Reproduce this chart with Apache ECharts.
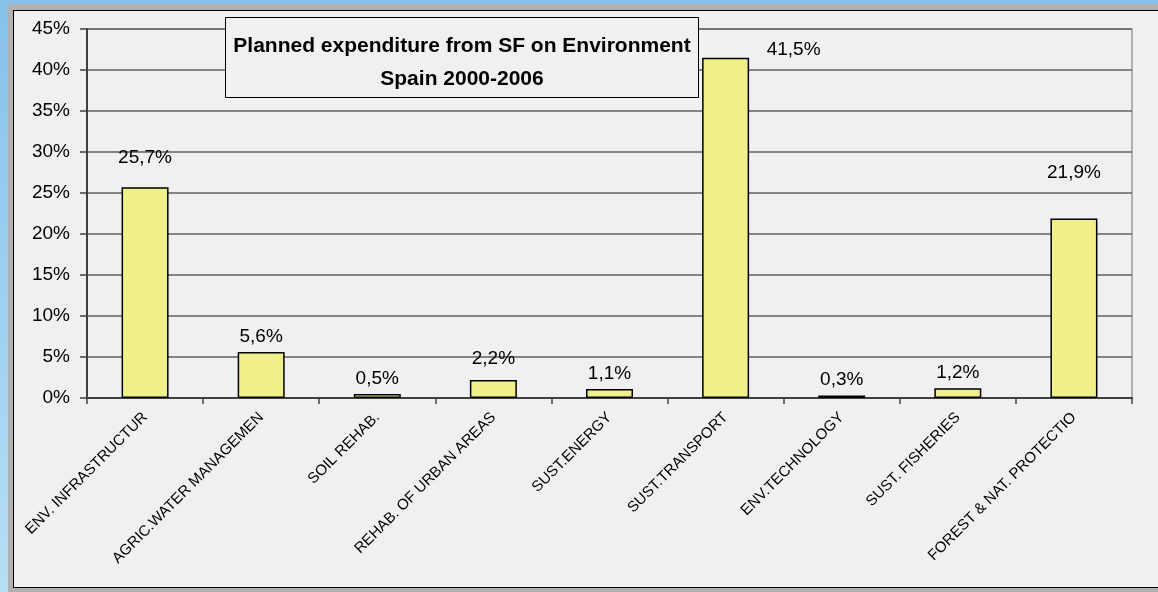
<!DOCTYPE html>
<html>
<head>
<meta charset="utf-8">
<script src="https://cdn.jsdelivr.net/npm/echarts@6/dist/echarts.min.js"></script>
<style>
  html, body { margin: 0; padding: 0; width: 1158px; height: 592px; overflow: hidden; }
  body { background: linear-gradient(to bottom, #86c2ea 0%, #9fd0f0 50%, #b6def5 100%); position: relative; }
  #shadow { position: absolute; left: 8px; top: 4px; width: 1150px; height: 588px; background: #b0b0b0; }
  #panel { position: absolute; left: 13px; top: 10px; width: 1145px; height: 578px; background: #f0f0f0;
           border-left: 1.5px solid #000; border-top: 1.5px solid #000; border-bottom: 1.5px solid #000; box-sizing: border-box; }
  #chart { position: absolute; left: 0; top: 0; width: 1158px; height: 592px; }
</style>
</head>
<body>
<div id="shadow"></div>
<div id="panel"></div>
<div id="chart"></div>
<script>
// ---- data ----
const categories = [
  'ENV. INFRASTRUCTUR',
  'AGRIC.WATER MANAGEMEN',
  'SOIL REHAB.',
  'REHAB. OF URBAN AREAS',
  'SUST.ENERGY',
  'SUST.TRANSPORT',
  'ENV.TECHNOLOGY',
  'SUST. FISHERIES',
  'FOREST & NAT. PROTECTIO'
];
const values = [25.7, 5.6, 0.5, 2.2, 1.1, 41.5, 0.3, 1.2, 21.9];
const yTicks = [0, 5, 10, 15, 20, 25, 30, 35, 40, 45];
const titleLines = ['Planned expenditure from SF on Environment', 'Spain 2000-2006'];

const FONT = '"Liberation Sans", Arial, sans-serif';
const fmt = v => v.toFixed(1).replace('.', ',') + '%';

// label offsets (style only)
const labelOffsets = { 0: [0, -14], 3: [0, -6], 5: [68, 8], 8: [0, -30] };

const chart = echarts.init(document.getElementById('chart'), null, { renderer: 'canvas' });
chart.setOption({
  backgroundColor: 'transparent',
  animation: false,
  grid: { left: 87, right: 26, top: 29, bottom: 194, show: true, borderColor: '#707070', borderWidth: 1, backgroundColor: 'transparent' },
  xAxis: {
    type: 'category',
    data: categories,
    axisLine: { lineStyle: { color: '#404040', width: 2 } },
    axisTick: { show: true, alignWithLabel: false, length: 6, lineStyle: { color: '#404040', width: 1.5 } },
    axisLabel: { rotate: 45, interval: 0, margin: 17, color: '#000', fontFamily: FONT, fontSize: 15 }
  },
  yAxis: {
    type: 'value',
    min: yTicks[0], max: yTicks[yTicks.length - 1], interval: yTicks[1] - yTicks[0],
    axisLine: { show: true, lineStyle: { color: '#404040', width: 2 } },
    axisTick: { show: true, length: 7, lineStyle: { color: '#404040', width: 1.5 } },
    splitLine: { show: true, lineStyle: { color: '#606060', width: 1.5 } },
    axisLabel: { color: '#000', fontFamily: FONT, fontSize: 19, margin: 17, formatter: v => v + '%' }
  },
  series: [{
    type: 'bar',
    barWidth: 47,
    data: values.map((v, i) => ({
      value: v,
      label: labelOffsets[i] ? { offset: labelOffsets[i] } : undefined
    })),
    itemStyle: { color: '#f0f08a', borderColor: '#000', borderWidth: 1.5 },
    label: {
      show: true, position: 'top', distance: 6, color: '#000',
      fontFamily: FONT, fontSize: 19,
      formatter: p => fmt(p.value)
    }
  }],
  graphic: [{
    type: 'group', left: 225, top: 17, z: 100,
    children: [
      { type: 'rect', shape: { x: 0, y: 0, width: 473, height: 80 },
        style: { fill: '#f0f0f0', stroke: '#000', lineWidth: 1 }, z: 100 },
      { type: 'text', x: 236.5, y: 29, z: 101,
        style: { text: titleLines[0], fill: '#000', font: 'bold 21px ' + FONT, textAlign: 'center', textVerticalAlign: 'middle' } },
      { type: 'text', x: 236.5, y: 62, z: 101,
        style: { text: titleLines[1], fill: '#000', font: 'bold 21px ' + FONT, textAlign: 'center', textVerticalAlign: 'middle' } }
    ]
  }]
});
</script>
</body>
</html>
